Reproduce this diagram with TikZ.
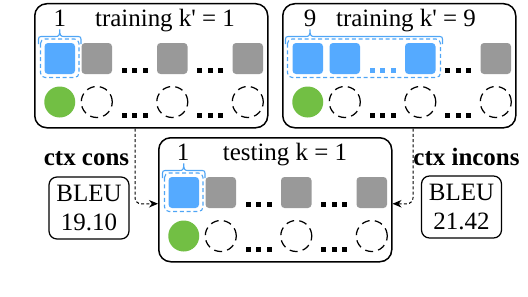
\documentclass[tikz,border=0pt]{standalone}
\usepackage{fontspec}
\setmainfont{Liberation Serif}
\usepackage{tikz}
\usetikzlibrary{arrows.meta,positioning}
\definecolor{slotblue}{HTML}{55AAFF}
\definecolor{slotgray}{HTML}{999999}
\definecolor{slotgreen}{HTML}{72BF44}
\definecolor{pickblue}{HTML}{4FA5F5}
\tikzset{
  panel/.style={draw,line width=0.3mm,rounded corners=2.4mm,anchor=north west,
    minimum width=46.6mm,minimum height=24.8mm,inner sep=0pt},
  scorebox/.style={draw,line width=0.25mm,rounded corners=1.6mm,align=center,
    minimum width=16mm,minimum height=12.4mm,inner sep=0pt},
  emptyslot/.style={draw,line width=0.25mm,dash pattern=on 1.6mm off 1.05mm},
  pickbox/.style={draw=pickblue,line width=0.22mm,dash pattern=on 0.8mm off 0.55mm,rounded corners=0.9mm},
  pickline/.style={draw=pickblue,line width=0.22mm},
  link/.style={line width=0.2mm,dash pattern=on 0.6mm off 0.45mm,rounded corners=1.2mm,
    -{Stealth[length=1.8mm,width=1.5mm]}},
  big/.style={font=\fontsize{14.2}{17}\selectfont},
  boldlabel/.style={font=\fontsize{14.2}{17}\selectfont\bfseries},
}
\newcommand{\slotgrid}[3]{% #1,#2: colours of squares 2 and 3, #3: colour of the first dots
  \foreach \sx/\col in {10.5/slotblue,47.5/#1,123/#2,198.5/slotgray}
    \fill[\col,rounded corners=0.7mm] (\sx,-40) rectangle ++(30.5,-31);
  \foreach \k in {0,1,2} {
    \fill[#3] (87.5+\k*10.5,-65) rectangle ++(5,-5);
    \fill (163+\k*10.5,-65) rectangle ++(5,-5);
    \fill (87.5+\k*10.5,-110) rectangle ++(5,-5);
    \fill (163+\k*10.5,-110) rectangle ++(5,-5);
  }
  \fill[slotgreen] (25.75,-99) circle (15.5);
  \foreach \cx in {62.75,138.25,213.75}
    \draw[emptyslot] (\cx,-99) circle (15.5);
}
\newcommand{\pickbrace}[3]{% left arm, tip, right arm
  \draw[pickline] (#1,-41) -- (#1,-36.5) .. controls (#1,-34.5) and (#1+0.5,-33.5) .. (#1+2.5,-33.5)
    -- (#2-4,-33.5) .. controls (#2-1,-33.5) and (#2,-32.5) .. (#2,-26.5)
    .. controls (#2,-32.5) and (#2+1,-33.5) .. (#2+4,-33.5)
    -- (#3-2.5,-33.5) .. controls (#3-0.5,-33.5) and (#3,-34.5) .. (#3,-36.5) -- (#3,-41);
}

\begin{document}
\begin{tikzpicture}[x=0.2mm,y=0.2mm]
  \useasboundingbox (0,0) rectangle (528,296);

  % training k'=1
  \node[panel] (train1) at (34,293) {};
  \begin{scope}[shift={(train1.north west)}]
    \slotgrid{slotgray}{slotgray}{black}
    \draw[pickbox] (6.5,-36) rectangle (45,-74.5);
    \pickbrace{4.5}{25.75}{47}
    \node[big,anchor=base] (k1) at (25.75,-23.5) {1};
    \node[big,anchor=base] (title1) at (131,-23.5) {training k\textquotesingle{} = 1};
  \end{scope}

  % training k'=9
  \node[panel] (train9) at (282,293) {};
  \begin{scope}[shift={(train9.north west)}]
    \slotgrid{slotblue}{slotblue}{slotblue}
    \draw[pickbox] (5.5,-36) rectangle (158.5,-74.5);
    \pickbrace{3.5}{28}{160.5}
    \node[big,anchor=base] (k9) at (28,-23.5) {9};
    \node[big,anchor=base] (title9) at (124,-23.5) {training k\textquotesingle{} = 9};
  \end{scope}

  % testing k=1
  \node[panel] (test) at (158,159) {};
  \begin{scope}[shift={(test.north west)}]
    \slotgrid{slotgray}{slotgray}{black}
    \draw[pickbox] (6.5,-36) rectangle (45,-74.5);
    \pickbrace{4.5}{25.75}{47}
    \node[big,anchor=base] (ktest) at (25,-23.5) {1};
    \node[big,anchor=base] (titletest) at (127,-23.5) {testing k = 1};
  \end{scope}

  % scores
  \node[boldlabel,anchor=base] (conslab) at (86.5,131) {ctx cons};
  \node[scorebox,big] (consbleu) at (89,88) {BLEU\\19.10};
  \node[boldlabel,anchor=base] (inconslab) at (466.5,131) {ctx incons};
  \node[scorebox,big] (inconsbleu) at (461.5,89) {BLEU\\21.42};

  \draw[link] ([xshift=20.2mm]train1.south west) |- ([yshift=-0.8mm]test.west);
  \draw[link] ([xshift=26.2mm]train9.south west) |- ([yshift=-0.8mm]test.east);
\end{tikzpicture}
\end{document}
